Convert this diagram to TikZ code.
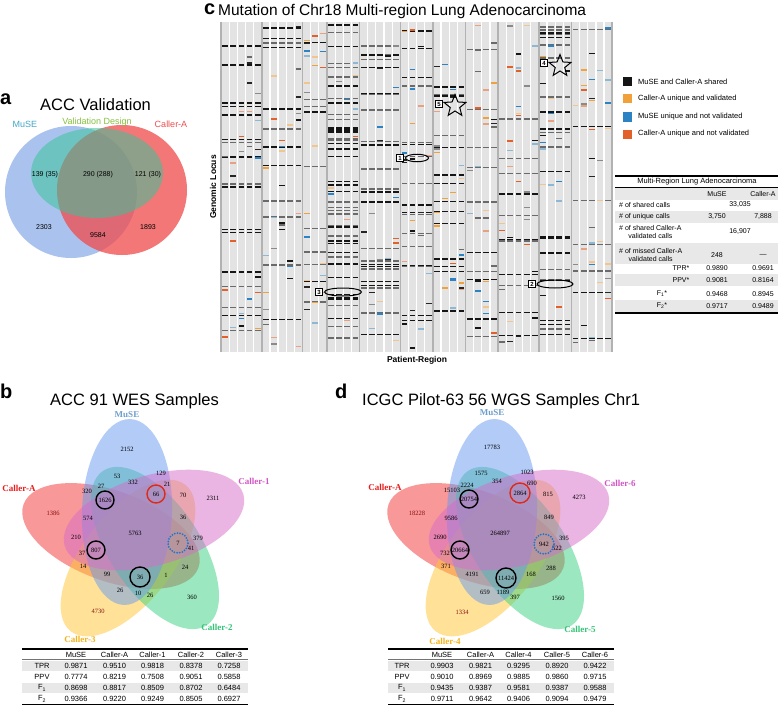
\documentclass[tikz,border=0pt]{standalone}
\usepackage{fontspec}
\setmainfont{Liberation Sans}
\newfontfamily\vennfont{Liberation Serif}
\usetikzlibrary{shapes.geometric}

% set colours
\definecolor{acblue}{HTML}{9CB9EC}
\definecolor{acred}{HTML}{F04A4A}
\definecolor{acgreen}{HTML}{3CC39A}
\definecolor{vblue}{HTML}{6699F0}
\definecolor{vmag}{HTML}{D66CC8}
\definecolor{vgreen}{HTML}{38D180}
\definecolor{vyellow}{HTML}{FFC733}
\definecolor{vred}{HTML}{F23333}
\definecolor{namemuse}{HTML}{45A7C9}
\definecolor{namevalid}{HTML}{86C13E}
\definecolor{namecaller}{HTML}{EE4F4F}
\definecolor{labblue}{HTML}{6E9ECB}
\definecolor{labred}{HTML}{E81E1E}
\definecolor{labmag}{HTML}{D255C4}
\definecolor{labgreen}{HTML}{34C477}
\definecolor{labyellow}{HTML}{F2B21C}
\definecolor{ringred}{HTML}{DD2A1A}
\definecolor{ringblue}{HTML}{1F74D0}
\definecolor{uniqred}{HTML}{8A1010}
\definecolor{rowshade}{HTML}{E8E8E8}
% mutation call colours
\definecolor{call0}{HTML}{151515}
\definecolor{call1}{HTML}{6A6A6A}
\definecolor{call2}{HTML}{252525}
\definecolor{call3}{HTML}{8A8A8A}
\definecolor{call4}{HTML}{F0A13A}
\definecolor{call5}{HTML}{F2C48E}
\definecolor{call6}{HTML}{2C83C4}
\definecolor{call7}{HTML}{8CB8D6}
\definecolor{call8}{HTML}{E2602A}
\definecolor{call9}{HTML}{E8A080}

\begin{document}
\begin{tikzpicture}[x=1pt, y=-1pt,
  paneltag/.style={font=\fontsize{20}{20}\selectfont\bfseries, inner sep=0pt, anchor=base west},
  paneltitle/.style={font=\fontsize{16.5}{18}\selectfont, inner sep=0pt, anchor=base west},
  setname/.style={font=\fontsize{9}{10}\selectfont, inner sep=0pt},
  anum/.style={font=\fontsize{7}{8}\selectfont, inner sep=0pt},
  vnum/.style={font=\vennfont\fontsize{6.5}{7}\selectfont, inner sep=0pt},
  vlab/.style={font=\vennfont\bfseries\fontsize{9}{10}\selectfont, inner sep=0pt},
  hitring/.style={vnum, circle, draw=black, line width=1.4pt, minimum size=18},
  dotring/.style={vnum, circle, draw=ringblue, line width=2pt, line cap=round,
    dash pattern=on 0pt off 2.7pt, minimum size=20},
  axislab/.style={font=\fontsize{8.5}{9}\selectfont\bfseries, inner sep=0pt},
  legtext/.style={font=\fontsize{7.5}{8}\selectfont, inner sep=0pt, anchor=west},
  tabtext/.style={font=\fontsize{7.5}{8}\selectfont, inner sep=0pt},
  ctext/.style={font=\fontsize{7}{8}\selectfont, inner sep=0pt},
  colfill/.style={fill=black!11},
  patsep/.style={draw=black!30, line width=1.6pt},
  numbox/.style={draw, line width=.8pt, fill=white, inner sep=.6pt, minimum size=7.5,
    font=\bfseries\fontsize{6}{6}\selectfont},
  callring/.style={ellipse, draw, line width=1pt, inner sep=0pt},
  callstar/.style={star, star points=5, star point ratio=2.3, draw, line width=1pt,
    minimum size=23, inner sep=0pt}]
\fill[white] (0,0) rectangle (778,706);
\useasboundingbox (0,0) rectangle (778,706);

% ---- panel a: validation Venn
\node[paneltag] (tag-a) at (0,105) {a};
\node[paneltitle] (title-a) at (40,110.5) {ACC Validation};
\fill[acblue, opacity=.85] (71,192) circle (66);
\fill[acred, opacity=.75] (122,190) circle (65);
\fill[acgreen, opacity=.55] (97,173) ellipse (66 and 45);
\node[setname, text=namemuse] (a-muse) at (25,124) {MuSE};
\node[setname, text=namevalid] (a-valid) at (97,122) {Validation Design};
\node[setname, text=namecaller] (a-caller) at (171,124) {Caller-A};
\foreach \x/\y/\t [count=\i] in {45/175/139 (35), 98/175/290 (288), 148/175/121 (30),
    44/227/2303, 98/235/9584, 148/227/1893}
  \node[anum] (a-n\i) at (\x,\y) {\t};

% ---- panel c: mutation map
\node[paneltag] (tag-c) at (204,15) {c};
\node[font=\fontsize{15.5}{17}\selectfont, inner sep=0pt, anchor=base west] (title-c)
  at (218,16) {Mutation of Chr18 Multi-region Lung Adenocarcinoma};
% columns per patient, then calls (start column / regions / calls / shared share)
\pgfmathsetseed{2718}
\foreach \s/\n/\rows/\share in {0/5/44/0.28, 5/5/42/0.25, 10/3/34/0.25, 13/4/58/0.85,
    17/5/44/0.5, 22/4/40/0.4, 26/4/38/0.3, 30/4/38/0.35, 34/5/44/0.25, 39/4/40/0.45,
    43/5/44/0.25} {
  \pgfmathsetmacro{\gx}{221+\s*8.15}
  \pgfmathtruncatemacro{\nm}{\n-1}
  \foreach \c in {0,...,\nm}
    \fill[colfill] (\gx+\c*8.15+0.6,22) rectangle (\gx+\c*8.15+7.55,352);
  \draw[patsep] (\gx,22) -- (\gx,352);
  \foreach \r in {1,...,\rows} {
    \pgfmathsetmacro{\yy}{24+rnd*325}
    \pgfmathsetmacro{\pick}{rnd}
    \pgfmathtruncatemacro{\cc}{min(\nm,int(rnd*\n))}
    \pgfmathtruncatemacro{\kk}{min(9,int(rnd*10))}
    \ifdim\pick pt<\share pt
      \pgfmathtruncatemacro{\dk}{mod(\kk,2)}
      \foreach \c in {0,...,\nm}
        \fill[call\dk] (\gx+\c*8.15+1.2,\yy) rectangle ++(5.8,1.4);
    \else
      \fill[call\kk] (\gx+\cc*8.15+1.2,\yy) rectangle ++(5.8,1.4);
    \fi
  }
}
\draw[patsep] (612.2,22) -- (612.2,352);
% marked calls
\node[callring, minimum width=23, minimum height=7.5] (ring1) at (417,158) {};
\node[callring, minimum width=36, minimum height=8] (ring2) at (555,284) {};
\node[callring, minimum width=37, minimum height=8] (ring3) at (343,292) {};
\node[callstar] (star4) at (560,66) {};
\node[callstar] (star5) at (455,106) {};
\foreach \x/\y/\t in {400/158/1, 532/284/2, 319/292/3, 544/63/4, 439/104/5}
  \node[numbox] (mark\t) at (\x,\y) {\t};
\node[axislab, rotate=90] (ylab-c) at (213,187) {Genomic Locus};
\node[axislab] (xlab-c) at (417,360) {Patient-Region};
% legend
\foreach \y/\c/\t [count=\i] in {82/call0/MuSE and Caller-A shared,
    99/call4/Caller-A unique and validated, 117/call6/MuSE unique and not validated,
    134/call8/Caller-A unique and not validated} {
  \fill[\c] (623,\y-4.5) rectangle (632,\y+4.5);
  \node[legtext] (leg\i) at (638,\y) {\t};
}
% table c
\foreach \ya/\yb in {188/200, 211/223, 243/264, 274/286, 300/312}
  \fill[rowshade] (615,\ya) rectangle (778,\yb);
\draw[line width=1.1pt] (615,176) -- (778,176);
\draw[line width=.6pt] (615,187.5) -- (778,187.5);
\draw[line width=1.3pt] (615,313) -- (778,313);
\node[ctext, font=\fontsize{7.5}{8}\selectfont] (c-head) at (697,182) {Multi-Region Lung Adenocarcinoma};
\node[ctext] (c-h1) at (717,194) {MuSE};
\node[ctext] (c-h2) at (763,194) {Caller-A};
\node[ctext, anchor=west] (c-r1) at (619,205) {\# of shared calls};
\node[ctext] (c-v1) at (740,205) {33,035};
\node[ctext, anchor=west] (c-r2) at (619,217) {\# of unique calls};
\node[ctext] (c-v2a) at (717,217) {3,750};
\node[ctext] (c-v2b) at (763,217) {7,888};
\node[ctext, anchor=west, align=center] (c-r3) at (619,231.5) {\# of shared Caller-A\\validated calls};
\node[ctext] (c-v3) at (740,232) {16,907};
\node[ctext, anchor=west, align=center] (c-r4) at (619,254.5) {\# of missed Caller-A\\validated calls};
\node[ctext] (c-v4a) at (717,255) {248};
\node[ctext] (c-v4b) at (763,255) {\textemdash};
\foreach \lab/\x/\y/\va/\vb [count=\i] in {TPR*/681/268/0.9890/0.9691, PPV*/681/280/0.9081/0.8164,
    F\textsubscript{1}*/662/294/0.9468/0.8945, F\textsubscript{2}*/662/306/0.9717/0.9489} {
  \node[ctext] (c-m\i) at (\x,\y) {\lab};
  \node[ctext] (c-m\i a) at (717,\y) {\va};
  \node[ctext] (c-m\i b) at (763,\y) {\vb};
}

% ---- panels b and d: five-set Venns
\node[paneltag] (tag-b) at (0,398) {b};
\node[paneltitle] (title-b) at (50,405) {ACC 91 WES Samples};
\node[paneltag] (tag-d) at (335,398) {d};
\node[paneltitle] (title-d) at (362,405) {ICGC Pilot-63 56 WGS Samples Chr1};
\foreach \dx in {0,365} {
  \begin{scope}[xshift=\dx]
    \foreach \cx/\cy/\rot/\col in {111/536/160/vred, 128/558/-128/vyellow,
        155/548/-56/vgreen, 127/512/88/vblue, 154/520/16/vmag}
      \fill[\col, opacity=.5, rotate around={\rot:(\cx,\cy)}] (\cx,\cy) ellipse (93 and 45);
  \end{scope}
}
% set names
\node[vlab, text=labblue] (b-muse) at (127,415) {MuSE};
\node[vlab, text=labred] (b-ca) at (19,488) {Caller-A};
\node[vlab, text=labmag] (b-c1) at (254,481) {Caller-1};
\node[vlab, text=labgreen] (b-c2) at (217,627) {Caller-2};
\node[vlab, text=labyellow] (b-c3) at (80,639) {Caller-3};
\node[vlab, text=labblue] (d-muse) at (492,413) {MuSE};
\node[vlab, text=labred] (d-ca) at (385,487) {Caller-A};
\node[vlab, text=labmag] (d-c6) at (620,483) {Caller-6};
\node[vlab, text=labgreen] (d-c5) at (580,629) {Caller-5};
\node[vlab, text=labyellow] (d-c4) at (445,641) {Caller-4};
% region counts b
\foreach \x/\y/\t [count=\i] in {127/449/2152, 117/476/53, 161/473/129, 133/482/332,
    167/484/21, 101/486/27, 87/491/320, 183/495/70, 88/518/574, 183/517/36, 135/533/5763,
    76/537/210, 191/548/41, 198/538/379, 82/553/37, 83/566/14, 107/574/99, 166/575/1,
    185/567/24, 120/590/26, 138/593/10, 150/595/26, 192/597/360, 213/498/2311}
  \node[vnum] (b-n\i) at (\x,\y) {\t};
\node[vnum, text=uniqred] (b-u1) at (53,513) {1386};
\node[vnum, text=uniqred] (b-u2) at (98,611) {4730};
\node[hitring] (b-hit1) at (105,500) {1626};
\node[hitring, draw=ringred] (b-hit2) at (156,494) {66};
\node[dotring] (b-hit3) at (178,543) {7};
\node[hitring] (b-hit4) at (96,550) {807};
\node[hitring, minimum size=20] (b-hit5) at (140,577) {36};
% region counts d
\foreach \x/\y/\t [count=\i] in {492/447/17783, 481/473/1575, 527/472/1023, 497/481/354,
    532/483/690, 467/485/2224, 452/490/15103, 548/494/815, 549/517/849, 451/518/9586,
    500/533/264897, 440/537/2690, 564/538/395, 557/548/522, 445/553/732, 446/566/371,
    472/574/4191, 531/574/168, 551/568/288, 485/592/659, 503/592/1189, 515/597/397,
    558/598/1560, 579/497/4273}
  \node[vnum] (d-n\i) at (\x,\y) {\t};
\node[vnum, text=uniqred] (d-u1) at (417,513) {18228};
\node[vnum, text=uniqred] (d-u2) at (462,612) {1334};
\node[hitring] (d-hit1) at (469,499) {20754};
\node[hitring, draw=ringred, minimum size=20] (d-hit2) at (520,493) {2864};
\node[dotring] (d-hit3) at (544,544) {942};
\node[hitring] (d-hit4) at (460,550) {20664};
\node[hitring, minimum size=20] (d-hit5) at (506,578) {11424};

% ---- tables b and d
\foreach \dx/\p/\lx/\hc/\hd/\he/\rows in {
    0/b/42/Caller-1/Caller-2/Caller-3/{TPR/666/0.9871/0.9510/0.9818/0.8378/0.7258,
      PPV/677/0.7774/0.8219/0.7508/0.9051/0.5858,
      F\textsubscript{1}/688/0.8698/0.8817/0.8509/0.8702/0.6484,
      F\textsubscript{2}/699/0.9366/0.9220/0.9249/0.8505/0.6927},
    366/d/36/Caller-4/Caller-5/Caller-6/{TPR/666/0.9903/0.9821/0.9295/0.8920/0.9422,
      PPV/677/0.9010/0.8969/0.9885/0.9860/0.9715,
      F\textsubscript{1}/688/0.9435/0.9387/0.9581/0.9387/0.9588,
      F\textsubscript{2}/699/0.9711/0.9642/0.9406/0.9094/0.9479}} {
  \begin{scope}[xshift=\dx]
    \fill[rowshade] (22,661) rectangle (248,671);
    \fill[rowshade] (22,683) rectangle (248,693);
    \draw[line width=1.2pt] (22,649) -- (248,649);
    \draw[line width=1.6pt, black!55] (22,659.5) -- (248,659.5);
    \draw[line width=1.2pt] (22,704.5) -- (248,704.5);
    \node[tabtext] (\p-h1) at (76,655) {MuSE};
    \node[tabtext] (\p-h2) at (114.5,655) {Caller-A};
    \node[tabtext] (\p-h3) at (152.5,655) {\hc};
    \node[tabtext] (\p-h4) at (191,655) {\hd};
    \node[tabtext] (\p-h5) at (229,655) {\he};
    \foreach \lab/\y/\va/\vb/\vc/\vd/\ve [count=\r] in \rows {
      \node[tabtext] (\p-l\r) at (\lx,\y) {\lab};
      \node[tabtext] (\p-v\r a) at (76,\y) {\va};
      \node[tabtext] (\p-v\r b) at (114.5,\y) {\vb};
      \node[tabtext] (\p-v\r c) at (152.5,\y) {\vc};
      \node[tabtext] (\p-v\r d) at (191,\y) {\vd};
      \node[tabtext] (\p-v\r e) at (229,\y) {\ve};
    }
  \end{scope}
}
\end{tikzpicture}
\end{document}
